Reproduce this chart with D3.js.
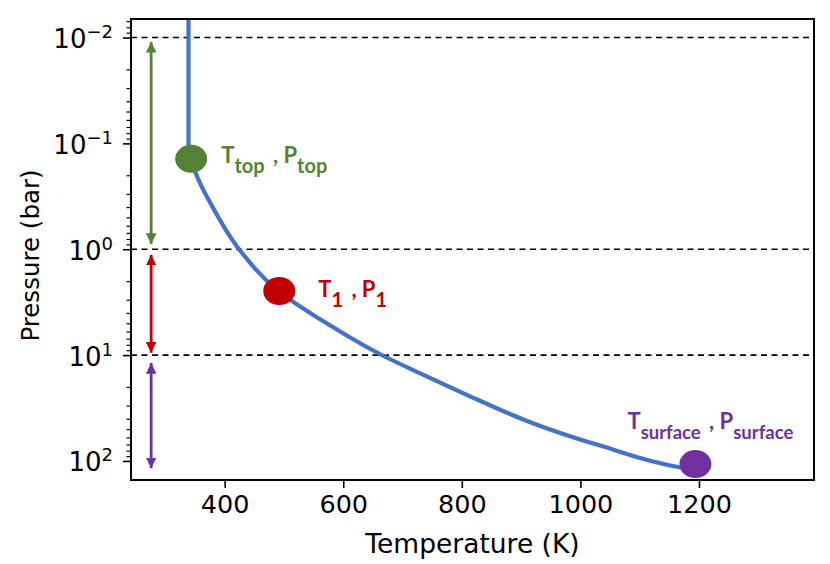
<!DOCTYPE html>
<html>
<head>
<meta charset="utf-8">
<script src="https://cdn.jsdelivr.net/npm/d3@7/dist/d3.min.js"></script>
<style>
  body { margin: 0; background: #fff; }
  svg { display: block; }
</style>
</head>
<body>
<div id="chart"></div>
<script>
// temperature / pressure profile
var temperature = [339, 339, 343.5, 384, 423, 492, 572, 668, 740, 826, 923, 1036, 1171, 1186];
var pressure = [0.005, 0.1, 0.14, 0.442, 0.977, 2.51, 5.01, 10.2, 15.8, 26.3, 44.7, 72.4, 116, 120];

// marked points: top, layer 1, surface
var pointNames = ["top", "1", "surface"];
var pointT = [343.5, 492, 1194];
var pointP = [0.14, 2.48, 107];
var pointColors = ["#548235", "#c00000", "#7030a0"];

// layer boundaries (dashed) and the double arrows spanning each layer
var boundaries = [0.01, 1, 10];
var arrowT = 276;
var arrowFrom = [0.011, 1.13, 11.9];
var arrowTo = [0.89, 9.5, 117];

var xTicks = [400, 600, 800, 1000, 1200];
var yTicks = [0.01, 0.1, 1, 10, 100];

var width = 830, height = 564;
var margin = {top: 19, right: 16, bottom: 84, left: 131};

var svg = d3.select("#chart").append("svg")
  .attr("width", width).attr("height", height);

var x = d3.scaleLinear()
  .domain([242, 1394])
  .range([margin.left, width - margin.right]);

var y = d3.scaleLog()
  .domain([Math.pow(10, -2.175), Math.pow(10, 2.18)])
  .range([margin.top, height - margin.bottom]);

var defs = svg.append("defs");
defs.append("clipPath").attr("id", "plot")
  .append("rect")
  .attr("x", margin.left).attr("y", margin.top)
  .attr("width", width - margin.left - margin.right)
  .attr("height", height - margin.top - margin.bottom);

// arrow heads, one per colour
pointColors.forEach(function(c, i) {
  defs.append("marker")
    .attr("id", "head" + i)
    .attr("viewBox", "0 0 10 10")
    .attr("refX", 10).attr("refY", 5)
    .attr("markerWidth", 3.8).attr("markerHeight", 3.8)
    .attr("markerUnits", "strokeWidth")
    .attr("orient", "auto-start-reverse")
    .append("path")
    .attr("d", "M0,0 L10,5 L0,10 Z")
    .attr("fill", c);
});

// axes
var xAxis = d3.axisBottom(x).tickValues(xTicks).tickSize(8).tickPadding(7)
  .tickFormat(d3.format("d"));
var gx = svg.append("g")
  .attr("transform", "translate(0," + (height - margin.bottom) + ")")
  .call(xAxis);
gx.select(".domain").remove();
gx.selectAll("line").attr("stroke-width", 1.6);
gx.selectAll("text")
  .attr("font-family", "DejaVu Sans")
  .attr("font-size", 25.5)
  .attr("fill", "#000");

var minor = [];
for (var k = -3; k <= 2; k++) {
  for (var m = 2; m <= 9; m++) {
    var v = m * Math.pow(10, k);
    if (v > y.domain()[0] && v < y.domain()[1]) minor.push(v);
  }
}
var gyMinor = svg.append("g")
  .attr("transform", "translate(" + margin.left + ",0)")
  .call(d3.axisLeft(y).tickValues(minor).tickSize(4.5).tickFormat(""));
gyMinor.select(".domain").remove();
gyMinor.selectAll("line").attr("stroke-width", 1.2);

var gy = svg.append("g")
  .attr("transform", "translate(" + margin.left + ",0)")
  .call(d3.axisLeft(y).tickValues(yTicks).tickSize(8).tickFormat(""));
gy.select(".domain").remove();
gy.selectAll("line").attr("stroke-width", 1.6);
gy.selectAll(".tick").append("text")
  .attr("x", -18).attr("dy", 10)
  .attr("text-anchor", "end")
  .attr("font-family", "DejaVu Sans")
  .attr("font-size", 26)
  .attr("fill", "#000")
  .each(function(d) {
    var t = d3.select(this);
    var e = Math.round(Math.log10(d));
    t.append("tspan").text("10");
    t.append("tspan").attr("dy", -10).attr("font-size", 18)
      .text(e < 0 ? "\u2212" + (-e) : String(e));
  });

// axis titles
svg.append("text")
  .attr("x", (x.range()[0] + x.range()[1]) / 2)
  .attr("y", 553)
  .attr("text-anchor", "middle")
  .attr("font-family", "DejaVu Sans").attr("font-size", 26.5)
  .text("Temperature (K)");

svg.append("text")
  .attr("transform", "translate(39," + ((y.range()[0] + y.range()[1]) / 2 + 6) + ") rotate(-90)")
  .attr("text-anchor", "middle")
  .attr("font-family", "DejaVu Sans").attr("font-size", 24.5)
  .text("Pressure (bar)");

var plot = svg.append("g").attr("clip-path", "url(#plot)");

// dashed layer boundaries
plot.selectAll(".bound")
  .data(boundaries)
  .enter().append("line")
  .attr("x1", x.range()[0]).attr("x2", x.range()[1])
  .attr("y1", function(d) { return y(d); })
  .attr("y2", function(d) { return y(d); })
  .attr("stroke", "#000")
  .attr("stroke-width", 1.6)
  .attr("stroke-dasharray", "6,4.5");

// profile
var profile = temperature.map(function(t, i) { return [t, pressure[i]]; });
var line = d3.line()
  .x(function(d) { return x(d[0]); })
  .y(function(d) { return y(d[1]); })
  .curve(d3.curveMonotoneY);

plot.append("path")
  .datum(profile)
  .attr("d", line)
  .attr("fill", "none")
  .attr("stroke", "#4472c4")
  .attr("stroke-width", 4.2);

// double arrows
plot.selectAll(".arrow")
  .data(arrowFrom)
  .enter().append("line")
  .attr("x1", x(arrowT)).attr("x2", x(arrowT))
  .attr("y1", function(d) { return y(d); })
  .attr("y2", function(d, i) { return y(arrowTo[i]); })
  .attr("stroke", function(d, i) { return pointColors[i]; })
  .attr("stroke-width", 2.8)
  .attr("marker-start", function(d, i) { return "url(#head" + i + ")"; })
  .attr("marker-end", function(d, i) { return "url(#head" + i + ")"; });

// marked points
plot.selectAll(".pt")
  .data(pointT)
  .enter().append("ellipse")
  .attr("cx", function(d) { return x(d); })
  .attr("cy", function(d, i) { return y(pointP[i]); })
  .attr("rx", 16).attr("ry", 14)
  .attr("fill", function(d, i) { return pointColors[i]; });

// labels next to the points
var labelDx = [30, 39, -68];
var labelDy = [4, 6, -35];
var subSize = [20, 20, 18.5];
var labels = svg.selectAll(".lab")
  .data(pointNames)
  .enter().append("text")
  .attr("x", function(d, i) { return x(pointT[i]) + labelDx[i]; })
  .attr("y", function(d, i) { return y(pointP[i]) + labelDy[i]; })
  .attr("font-family", "Lato")
  .attr("font-weight", "bold")
  .attr("font-size", 22)
  .attr("fill", function(d, i) { return pointColors[i]; });

labels.each(function(d, i) {
  var t = d3.select(this);
  t.append("tspan").text("T");
  t.append("tspan").attr("dy", 10).attr("font-size", subSize[i]).text(d);
  t.append("tspan").attr("dy", -10).attr("dx", 3).text(" , P");
  t.append("tspan").attr("dy", 10).attr("font-size", subSize[i]).text(d);
});

// frame
svg.append("rect")
  .attr("x", margin.left).attr("y", margin.top)
  .attr("width", width - margin.left - margin.right)
  .attr("height", height - margin.top - margin.bottom)
  .attr("fill", "none")
  .attr("stroke", "#000")
  .attr("stroke-width", 2);
</script>
</body>
</html>
